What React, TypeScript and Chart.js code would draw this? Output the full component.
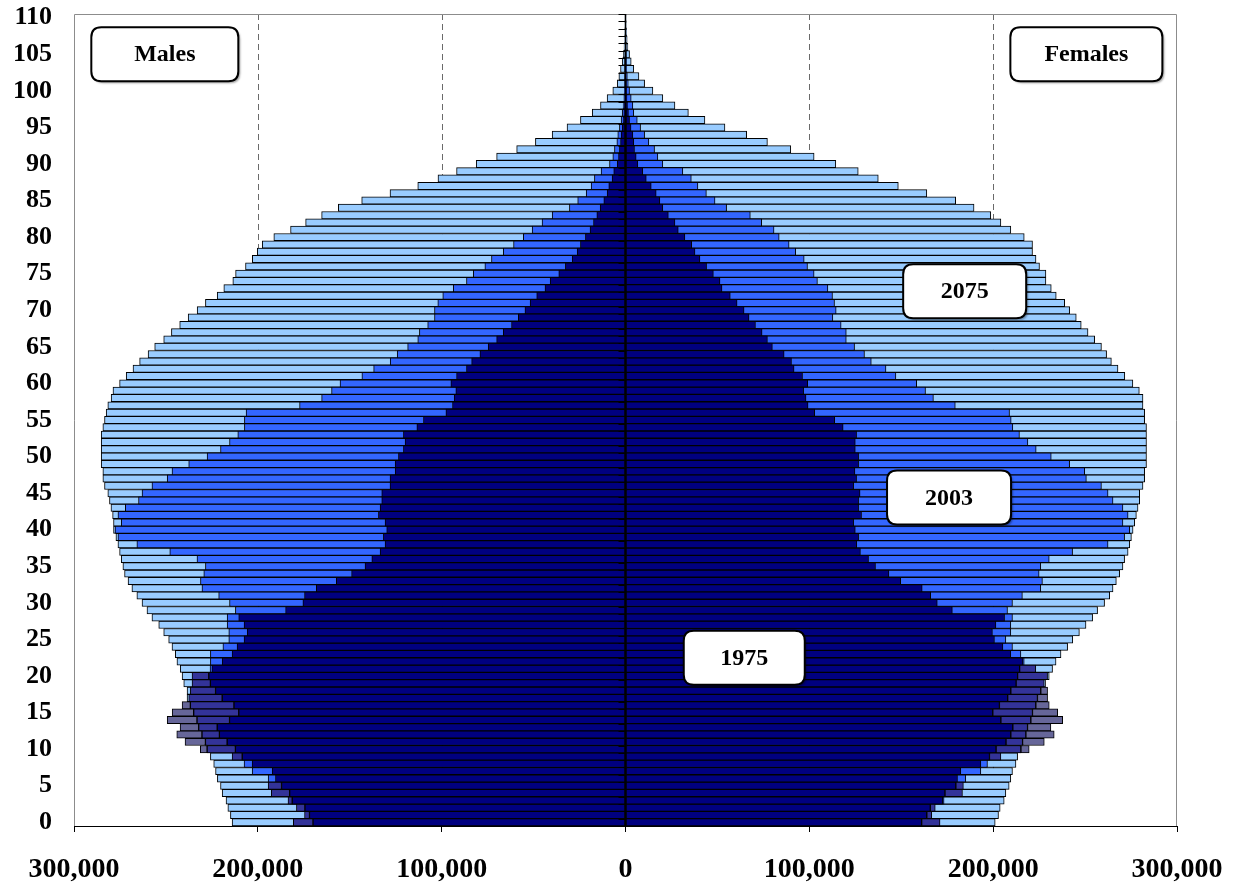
import React, { useEffect, useRef } from 'react';
import { Chart, registerables } from 'chart.js';

Chart.register(...registerables);

// ---------- categories / ticks ----------
const AGES: string[] = Array.from({ length: 111 }, (_, i) => String(i));
const AGE_LABEL_STEP = 5;
const X_MIN = -300;
const X_MAX = 300;
const X_STEP = 100;
const GRID_VALUES = [-200, -100, 100, 200];

// ---------- series values (thousands of people, by single year of age 0..110) ----------
const MALE_1975 = [
  180.7, 174.6, 179.0, 183.6, 192.7, 194.4, 190.4, 192.2, 203.1, 214.0,
  231.3, 239.6, 244.1, 242.3, 249.3, 246.6, 241.2, 237.6, 236.7, 235.8,
  235.8, 225.0, 219.4, 214.0, 211.3, 207.5, 205.8, 207.5, 210.4, 184.9,
  175.5, 174.6, 168.2, 157.3, 149.0, 141.7, 138.0, 133.5, 130.8, 131.7,
  129.9, 130.8, 134.4, 133.5, 132.6, 132.6, 128.1, 128.1, 125.3, 125.3,
  123.5, 120.8, 119.9, 120.8, 113.5, 109.9, 97.7, 94.1, 93.2, 92.3,
  95.0, 91.9, 86.5, 83.7, 79.2, 74.7, 70.1, 66.5, 62.0, 58.3,
  54.7, 51.9, 48.3, 43.8, 41.0, 36.3, 32.7, 29.0, 26.3, 24.5,
  21.8, 19.3, 17.4, 15.6, 13.8, 11.8, 10.0, 9.1, 7.3, 6.4,
  4.5, 3.8, 3.3, 2.7, 2.4, 1.8, 1.3, 0.9, 0.6, 0.4,
  0.3, 0.2, 0.1, 0.1, 0, 0, 0, 0, 0, 0, 0,
];

const MALE_2003 = [
  170.0, 171.9, 174.4, 181.3, 182.7, 187.1, 194.4, 203.1, 207.5, 208.5,
  212.2, 216.7, 220.9, 222.1, 215.4, 210.4, 213.0, 219.4, 223.0, 225.8,
  226.7, 226.0, 225.8, 225.8, 219.0, 215.8, 215.8, 216.7, 216.7, 212.2,
  215.4, 221.3, 230.4, 231.2, 229.4, 228.5, 233.1, 247.9, 265.8, 276.1,
  277.7, 274.3, 276.1, 272.1, 264.9, 263.0, 257.6, 249.3, 246.7, 237.6,
  227.6, 220.3, 215.4, 210.9, 207.3, 207.3, 206.4, 177.3, 165.3, 159.9,
  155.3, 143.4, 137.0, 128.0, 124.2, 118.5, 113.0, 112.1, 107.6, 103.9,
  103.9, 102.1, 99.4, 93.7, 86.5, 82.8, 76.5, 72.9, 66.5, 60.9,
  55.6, 50.8, 45.4, 39.9, 30.5, 26.0, 21.4, 18.7, 16.9, 13.3,
  8.7, 6.9, 6.0, 4.7, 4.2, 3.3, 2.4, 1.8, 1.3, 0.9,
  0.6, 0.4, 0.3, 0.2, 0.1, 0.1, 0, 0, 0, 0, 0,
];

const MALE_2075 = [
  214.0, 214.9, 216.3, 217.3, 219.4, 220.3, 222.0, 223.0, 224.0, 225.8,
  227.6, 228.5, 230.4, 232.2, 233.1, 234.9, 236.7, 238.5, 238.5, 240.3,
  241.2, 242.2, 244.0, 244.9, 246.7, 248.5, 251.2, 253.9, 257.6, 260.3,
  263.0, 265.8, 268.5, 270.6, 272.5, 273.4, 274.3, 275.2, 276.1, 277.2,
  278.5, 278.5, 279.0, 279.9, 280.7, 281.6, 283.4, 284.3, 284.3, 285.2,
  285.2, 285.2, 285.2, 285.2, 284.3, 283.4, 282.5, 281.6, 279.8, 278.8,
  275.2, 271.6, 267.9, 264.3, 259.7, 256.1, 251.2, 247.0, 242.5, 237.9,
  233.0, 228.5, 222.1, 218.5, 213.6, 212.1, 206.7, 203.0, 200.3, 197.6,
  191.3, 182.2, 174.0, 165.3, 156.2, 143.5, 128.1, 113.0, 102.0, 91.9,
  81.2, 70.1, 59.2, 49.0, 39.9, 31.8, 24.5, 18.1, 13.6, 10.0,
  6.9, 4.5, 3.6, 2.7, 1.8, 1.2, 0.8, 0.5, 0.4, 0.3, 0.2,
];

const FEMALE_1975 = [
  171.1, 166.6, 168.5, 172.6, 183.3, 183.8, 180.6, 182.4, 193.3, 204.2,
  219.6, 227.8, 233.2, 231.4, 237.8, 235.1, 230.5, 229.6, 229.6, 227.8,
  229.6, 223.2, 216.2, 209.6, 205.3, 200.7, 199.6, 201.5, 206.2, 177.8,
  169.6, 166.0, 161.4, 149.7, 143.3, 136.0, 132.2, 127.8, 125.8, 126.8,
  125.0, 124.1, 128.4, 126.8, 126.8, 127.6, 124.1, 125.7, 124.8, 126.8,
  126.8, 125.0, 125.0, 125.7, 118.4, 113.8, 102.9, 99.3, 98.2, 96.9,
  99.1, 96.3, 91.7, 90.3, 86.3, 79.9, 77.2, 74.3, 70.7, 67.2,
  64.5, 60.7, 57.0, 52.5, 51.4, 47.8, 44.1, 40.5, 37.8, 36.0,
  32.3, 28.7, 26.9, 23.3, 20.3, 18.7, 16.7, 14.0, 11.3, 9.4,
  6.7, 5.8, 4.9, 4.5, 4.0, 3.0, 2.2, 1.6, 1.1, 0.8,
  0.5, 0.3, 0.2, 0.1, 0.1, 0, 0, 0, 0, 0, 0,
];

const FEMALE_2003 = [
  161.1, 163.9, 165.8, 173.3, 173.8, 179.7, 185.1, 193.3, 196.9, 198.0,
  201.6, 207.0, 209.6, 210.7, 204.2, 199.8, 203.4, 207.9, 209.6, 212.5,
  213.3, 214.4, 216.9, 215.1, 210.5, 206.9, 209.6, 209.6, 210.5, 207.8,
  210.5, 215.9, 225.9, 226.8, 225.0, 225.9, 230.5, 243.2, 262.5, 271.5,
  274.3, 270.6, 273.4, 270.6, 265.2, 262.5, 258.9, 250.7, 249.8, 241.6,
  231.6, 223.4, 218.9, 214.3, 210.7, 209.8, 208.9, 179.4, 167.5, 163.2,
  158.4, 147.1, 141.7, 133.7, 130.0, 124.6, 120.1, 120.1, 117.3, 112.8,
  114.6, 113.7, 112.6, 110.1, 104.4, 102.6, 99.0, 97.2, 92.6, 89.0,
  83.6, 80.8, 74.1, 67.9, 55.0, 48.7, 44.0, 39.4, 35.8, 31.2,
  20.3, 17.6, 15.8, 12.7, 10.4, 8.2, 6.4, 4.5, 4.0, 3.1,
  2.2, 1.5, 1.0, 0.7, 0.5, 0.3, 0.2, 0.1, 0.1, 0, 0,
];

const FEMALE_2075 = [
  201.1, 202.9, 203.8, 206.0, 206.9, 208.7, 209.6, 210.5, 212.4, 213.3,
  215.1, 216.0, 217.8, 218.7, 220.5, 221.4, 223.2, 224.1, 225.9, 228.5,
  230.5, 232.3, 234.2, 236.9, 240.5, 243.3, 246.9, 250.5, 254.1, 256.8,
  260.6, 263.4, 265.2, 267.0, 268.8, 270.6, 271.5, 273.4, 274.3, 275.2,
  276.1, 277.0, 277.9, 278.8, 279.7, 279.7, 281.5, 282.4, 282.4, 283.4,
  283.4, 283.4, 283.4, 283.4, 283.4, 282.4, 282.4, 281.5, 281.5, 279.5,
  276.0, 271.6, 267.9, 264.3, 261.7, 258.9, 255.2, 251.6, 247.9, 245.2,
  241.6, 238.9, 234.3, 231.6, 228.7, 228.7, 225.2, 223.3, 221.4, 221.4,
  216.9, 209.6, 204.2, 198.7, 189.6, 179.6, 163.9, 148.4, 137.5, 126.6,
  114.4, 102.6, 89.9, 77.2, 65.9, 54.1, 43.2, 34.2, 26.9, 20.3,
  14.9, 10.4, 7.3, 4.5, 3.1, 2.2, 1.3, 0.9, 0.6, 0.4, 0.3,
];

// ---------- annotation labels ----------
const NOTE_TEXTS = ['Males', 'Females', '2075', '2003', '1975'];
const NOTE_VALUES = [-250.6, 250.7, 184.5, 176.0, 64.6];
const NOTE_AGES = [105, 105, 72.6, 44.4, 22.5];
const NOTE_WIDTHS = [147, 152, 123, 124, 121];

// ---------- styles ----------
const C_2075 = '#99CCFF';
const C_2003 = '#3366FF';
const C_1975 = '#000080';
const C_1975_OVER_2075 = '#333399';
const C_1975_BEYOND = '#666699';
const SERIF = "'Liberation Serif', 'Times New Roman', Times, serif";

type Seg = [number, number] | null;

function full(vals: number[], sign: number): Seg[] {
  return vals.map((v) => [0, sign * v]);
}
function core(v75: number[], v03: number[], sign: number): Seg[] {
  return v75.map((v, i) => [0, sign * Math.min(v, v03[i])]);
}
function over2075(v75: number[], v03: number[], v2075: number[], sign: number): Seg[] {
  return v75.map((v, i) => {
    const lo = v03[i];
    const hi = Math.min(v, v2075[i]);
    return hi > lo ? [sign * lo, sign * hi] : null;
  });
}
function beyond(v75: number[], v03: number[], v2075: number[], sign: number): Seg[] {
  return v75.map((v, i) => {
    const lo = Math.max(v03[i], v2075[i]);
    return v > lo ? [sign * lo, sign * v] : null;
  });
}

function roundRect(ctx: CanvasRenderingContext2D, x: number, y: number, w: number, h: number, r: number) {
  ctx.beginPath();
  ctx.moveTo(x + r, y);
  ctx.lineTo(x + w - r, y);
  ctx.quadraticCurveTo(x + w, y, x + w, y + r);
  ctx.lineTo(x + w, y + h - r);
  ctx.quadraticCurveTo(x + w, y + h, x + w - r, y + h);
  ctx.lineTo(x + r, y + h);
  ctx.quadraticCurveTo(x, y + h, x, y + h - r);
  ctx.lineTo(x, y + r);
  ctx.quadraticCurveTo(x, y, x + r, y);
  ctx.closePath();
}

const decorPlugin = {
  id: 'pyramidDecor',
  beforeDatasetsDraw(chart: any) {
    const { ctx, chartArea: a, scales } = chart;
    const x = scales.x;
    ctx.save();
    ctx.strokeStyle = '#6a6a6a';
    ctx.lineWidth = 1;
    ctx.setLineDash([6, 4]);
    GRID_VALUES.forEach((v) => {
      const px = Math.round(x.getPixelForValue(v)) + 0.5;
      ctx.beginPath();
      ctx.moveTo(px, a.top);
      ctx.lineTo(px, a.bottom);
      ctx.stroke();
    });
    ctx.setLineDash([]);
    ctx.strokeStyle = '#8c8c8c';
    ctx.beginPath();
    ctx.moveTo(a.left + 0.5, a.bottom);
    ctx.lineTo(a.left + 0.5, a.top + 0.5);
    ctx.lineTo(a.right - 0.5, a.top + 0.5);
    ctx.lineTo(a.right - 0.5, a.bottom);
    ctx.stroke();
    ctx.restore();
  },
  afterDatasetsDraw(chart: any) {
    const { ctx, chartArea: a, scales } = chart;
    const x = scales.x;
    const y = scales.y;
    const x0 = x.getPixelForValue(0);
    ctx.save();
    ctx.strokeStyle = '#000';
    ctx.lineWidth = 1.5;
    ctx.beginPath();
    ctx.moveTo(x0, a.top);
    ctx.lineTo(x0, a.bottom);
    ctx.stroke();
    ctx.lineWidth = 1;
    const n = AGES.length;
    for (let i = 0; i <= n; i++) {
      const py = Math.round(y.getPixelForValue(i - 0.5)) + 0.5;
      ctx.beginPath();
      ctx.moveTo(x0 - 7, py);
      ctx.lineTo(x0, py);
      ctx.stroke();
    }
    // annotation boxes
    NOTE_TEXTS.forEach((t, i) => {
      const cx = x.getPixelForValue(NOTE_VALUES[i]);
      const cy = y.getPixelForValue(NOTE_AGES[i]);
      const w = NOTE_WIDTHS[i];
      const h = 54;
      ctx.save();
      ctx.shadowColor = 'rgba(0,0,0,0.35)';
      ctx.shadowOffsetX = 2;
      ctx.shadowOffsetY = 2;
      ctx.shadowBlur = 2;
      roundRect(ctx, cx - w / 2, cy - h / 2, w, h, 10);
      ctx.fillStyle = '#fff';
      ctx.fill();
      ctx.restore();
      roundRect(ctx, cx - w / 2, cy - h / 2, w, h, 10);
      ctx.lineWidth = 2;
      ctx.strokeStyle = '#000';
      ctx.stroke();
      ctx.fillStyle = '#000';
      ctx.font = `bold 24px ${SERIF}`;
      ctx.textAlign = 'center';
      ctx.textBaseline = 'middle';
      ctx.fillText(t, cx, cy + 1);
    });
    ctx.restore();
  },
};

export default function App() {
  const ref = useRef<HTMLCanvasElement>(null);

  useEffect(() => {
    const canvas = ref.current;
    if (!canvas) return;

    const ds = (label: string, data: Seg[], color: string, order: number) => ({
      label,
      data,
      backgroundColor: color,
      borderColor: '#000',
      borderWidth: 1,
      borderSkipped: false,
      grouped: false,
      barPercentage: 1,
      categoryPercentage: 1,
      order,
    });

    const datasets = [
      ds('2075 Males', full(MALE_2075, -1), C_2075, 5),
      ds('2075 Females', full(FEMALE_2075, 1), C_2075, 5),
      ds('2003 Males', full(MALE_2003, -1), C_2003, 4),
      ds('2003 Females', full(FEMALE_2003, 1), C_2003, 4),
      ds('1975 Males', core(MALE_1975, MALE_2003, -1), C_1975, 3),
      ds('1975 Females', core(FEMALE_1975, FEMALE_2003, 1), C_1975, 3),
      ds('1975 Males ', over2075(MALE_1975, MALE_2003, MALE_2075, -1), C_1975_OVER_2075, 2),
      ds('1975 Females ', over2075(FEMALE_1975, FEMALE_2003, FEMALE_2075, 1), C_1975_OVER_2075, 2),
      ds('1975 Males  ', beyond(MALE_1975, MALE_2003, MALE_2075, -1), C_1975_BEYOND, 1),
      ds('1975 Females  ', beyond(FEMALE_1975, FEMALE_2003, FEMALE_2075, 1), C_1975_BEYOND, 1),
    ];

    const chart = new Chart(canvas, {
      type: 'bar',
      data: { labels: AGES, datasets: datasets as any },
      options: {
        animation: false,
        responsive: false,
        maintainAspectRatio: false,
        indexAxis: 'y',
        layout: { padding: { top: 14, right: 61, left: 0, bottom: 0 } },
        plugins: { legend: { display: false }, tooltip: { enabled: false } },
        scales: {
          x: {
            type: 'linear',
            min: X_MIN,
            max: X_MAX,
            afterFit: (s: any) => {
              s.height = 58;
              s.paddingLeft = 0;
              s.paddingRight = 0;
            },
            ticks: {
              stepSize: X_STEP,
              maxRotation: 0,
              autoSkip: false,
              padding: 21,
              color: '#000',
              font: { family: SERIF, size: 28, weight: 'bold' },
              callback: (v: any) => Math.abs(Number(v) * 1000).toLocaleString('en-US'),
            },
            grid: { drawOnChartArea: false, drawTicks: true, tickLength: 6, color: '#000' },
            border: { display: true, color: '#000', width: 1 },
          },
          y: {
            type: 'category',
            reverse: true,
            afterFit: (s: any) => {
              s.width = 74;
              s.paddingTop = 0;
              s.paddingBottom = 0;
            },
            ticks: {
              autoSkip: false,
              padding: 22,
              color: '#000',
              font: { family: SERIF, size: 26, weight: 'bold' },
              callback: (_v: any, i: number) => (i % AGE_LABEL_STEP === 0 ? AGES[i] : ''),
            },
            grid: { display: false, drawTicks: false },
            border: { display: false },
          },
        },
      } as any,
      plugins: [decorPlugin],
    });

    return () => chart.destroy();
  }, []);

  return (
    <div style={{ position: 'absolute', left: 0, top: 0, width: 1238, height: 884, background: '#fff' }}>
      <canvas ref={ref} width={1238} height={884} style={{ display: 'block', width: 1238, height: 884 }} />
    </div>
  );
}
